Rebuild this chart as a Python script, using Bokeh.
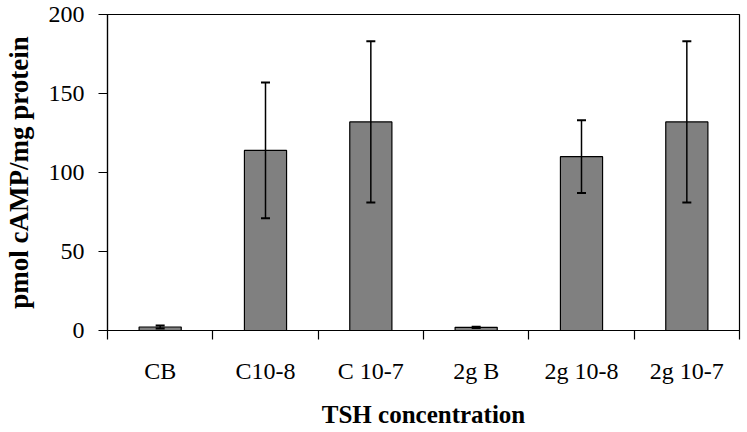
from bokeh.plotting import figure
from bokeh.models import (ColumnDataSource, Whisker, TeeHead, FixedTicker, Range1d)
from bokeh.embed import file_html
from bokeh.resources import INLINE

categories = ["CB", "C10-8", "C 10-7", "2g B", "2g 10-8", "2g 10-7"]
means = [2.2, 114, 132, 2.0, 110, 132]
errors = [1.0, 43, 51, 0.4, 23, 51]
y_ticks = [0, 50, 100, 150, 200]

centers = [i + 0.5 for i in range(len(categories))]
bounds = [i for i in range(len(categories) + 1)]

src = ColumnDataSource(dict(
    x=centers, top=means,
    upper=[m + e for m, e in zip(means, errors)],
    lower=[m - e for m, e in zip(means, errors)],
))

FONT = "Liberation Serif"

p = figure(width=741, height=432, output_backend="svg", toolbar_location=None,
           x_range=Range1d(0, len(categories)), y_range=Range1d(0, 200),
           min_border_left=104, min_border_right=2, min_border_top=14, min_border_bottom=102,
           background_fill_color="white", border_fill_color="white")

p.vbar(x="x", top="top", width=0.4, source=src, fill_color="#808080",
       line_color="black", line_width=1.2)

w = Whisker(source=src, base="x", upper="upper", lower="lower",
            line_color="black", line_width=1.5, level="overlay",
            upper_head=TeeHead(size=9, line_color="black", line_width=2),
            lower_head=TeeHead(size=9, line_color="black", line_width=2))
p.add_layout(w)

p.grid.visible = False
p.outline_line_color = "black"
p.outline_line_width = 1.2
p.outline_line_alpha = 1

# x axis
xa = p.xaxis[0]
xa.ticker = FixedTicker(ticks=centers, minor_ticks=bounds)
xa.major_label_overrides = {c: name for c, name in zip(centers, categories)}
xa.major_tick_out = 0
xa.major_tick_in = 0
xa.minor_tick_out = 9
xa.minor_tick_in = 0
xa.minor_tick_line_color = "black"
xa.minor_tick_line_width = 1.2
xa.axis_line_color = "black"
xa.axis_line_width = 1.2
xa.major_label_text_font = FONT
xa.major_label_text_font_size = "24px"
xa.major_label_text_color = "black"
xa.major_label_standoff = 18
xa.axis_label = "TSH concentration"
xa.axis_label_text_font = FONT
xa.axis_label_text_font_size = "25px"
xa.axis_label_text_font_style = "bold"
xa.axis_label_text_color = "black"
xa.axis_label_standoff = 14

# y axis
ya = p.yaxis[0]
ya.ticker = FixedTicker(ticks=y_ticks)
ya.minor_tick_line_color = None
ya.major_tick_out = 9
ya.major_tick_in = 0
ya.major_tick_line_color = "black"
ya.major_tick_line_width = 1.2
ya.axis_line_color = "black"
ya.axis_line_width = 1.2
ya.major_label_text_font = FONT
ya.major_label_text_font_size = "24px"
ya.major_label_text_color = "black"
ya.major_label_standoff = 14
ya.axis_label = "pmol cAMP/mg protein"
ya.axis_label_text_font = FONT
ya.axis_label_text_font_size = "27px"
ya.axis_label_text_font_style = "bold"
ya.axis_label_text_color = "black"
ya.axis_label_standoff = 12

open("out.html", "w").write(file_html(p, INLINE))
